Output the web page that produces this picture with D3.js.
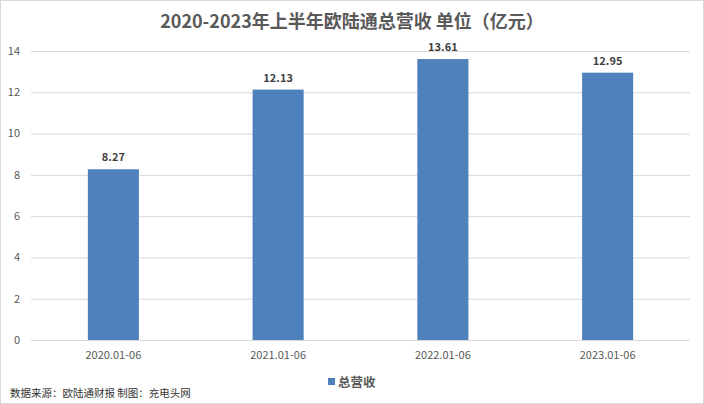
<!DOCTYPE html>
<html><head><meta charset="utf-8">
<script src="https://cdn.jsdelivr.net/npm/d3@7"></script>
<style>
html,body{margin:0;padding:0;background:#fff;}
svg{display:block;}
text{font-family:"Noto Sans CJK SC","Noto Sans",sans-serif;}
</style></head>
<body><svg id="c" width="704" height="404"></svg>
<script>
const title = "2020-2023年上半年欧陆通总营收 单位（亿元）";
const categories = ["2020.01-06","2021.01-06","2022.01-06","2023.01-06"];
const values = [8.27,12.13,13.61,12.95];
const yTicks = [0,2,4,6,8,10,12,14];
const seriesName = "总营收";
const source = "数据来源：欧陆通财报  制图：充电头网";

(function(){
const svg = d3.select("#c");
const W=704,H=404;
svg.append("rect").attr("x",0.5).attr("y",0.5).attr("width",W-1).attr("height",H-1)
  .attr("fill","#fff").attr("stroke","#d9d9d9");

const pL=31,pR=690,pT=51,pB=340;
const x=d3.scaleBand().domain(categories).range([pL,pR]).paddingInner(0.69).paddingOuter(0.345);
const y=d3.scaleLinear().domain([0,14]).range([pB,pT]);

svg.append("g").selectAll("line").data(yTicks).join("line")
  .attr("x1",pL).attr("x2",pR)
  .attr("y1",d=>y(d)+0.5).attr("y2",d=>y(d)+0.5)
  .attr("stroke","#d9d9d9").attr("stroke-width",1);

svg.append("g").selectAll("text").data(yTicks).join("text")
  .attr("x",20).attr("y",d=>y(d)).attr("dy","0.35em")
  .attr("text-anchor","end").attr("font-size",11).attr("fill","#595959").text(d=>d);

svg.append("g").selectAll("rect").data(values).join("rect")
  .attr("x",(d,i)=>x(categories[i])).attr("width",x.bandwidth())
  .attr("y",d=>y(d)).attr("height",d=>y(0)-y(d)).attr("fill","#4f81bd");

svg.append("g").selectAll("text").data(values).join("text")
  .attr("x",(d,i)=>x(categories[i])+x.bandwidth()/2).attr("y",d=>y(d)-8)
  .attr("text-anchor","middle").attr("font-size",11).attr("font-weight","bold")
  .attr("fill","#404040").text(d=>d.toFixed(2));

svg.append("g").selectAll("text").data(categories).join("text")
  .attr("x",d=>x(d)+x.bandwidth()/2).attr("y",359)
  .attr("text-anchor","middle").attr("font-size",11).attr("fill","#595959").text(d=>d);

svg.append("text").attr("x",352).attr("y",28).attr("text-anchor","middle")
  .attr("font-size",18).attr("font-weight","bold").attr("fill","#595959").text(title);

svg.append("rect").attr("x",328).attr("y",378).attr("width",7).attr("height",7).attr("fill","#4f81bd");
svg.append("text").attr("x",338).attr("y",387).attr("font-size",12.5).attr("font-weight","bold")
  .attr("fill","#595959").text(seriesName);

svg.append("text").attr("x",10).attr("y",397).attr("font-size",10.5).attr("fill","#333").text(source);
})();
</script></body></html>
